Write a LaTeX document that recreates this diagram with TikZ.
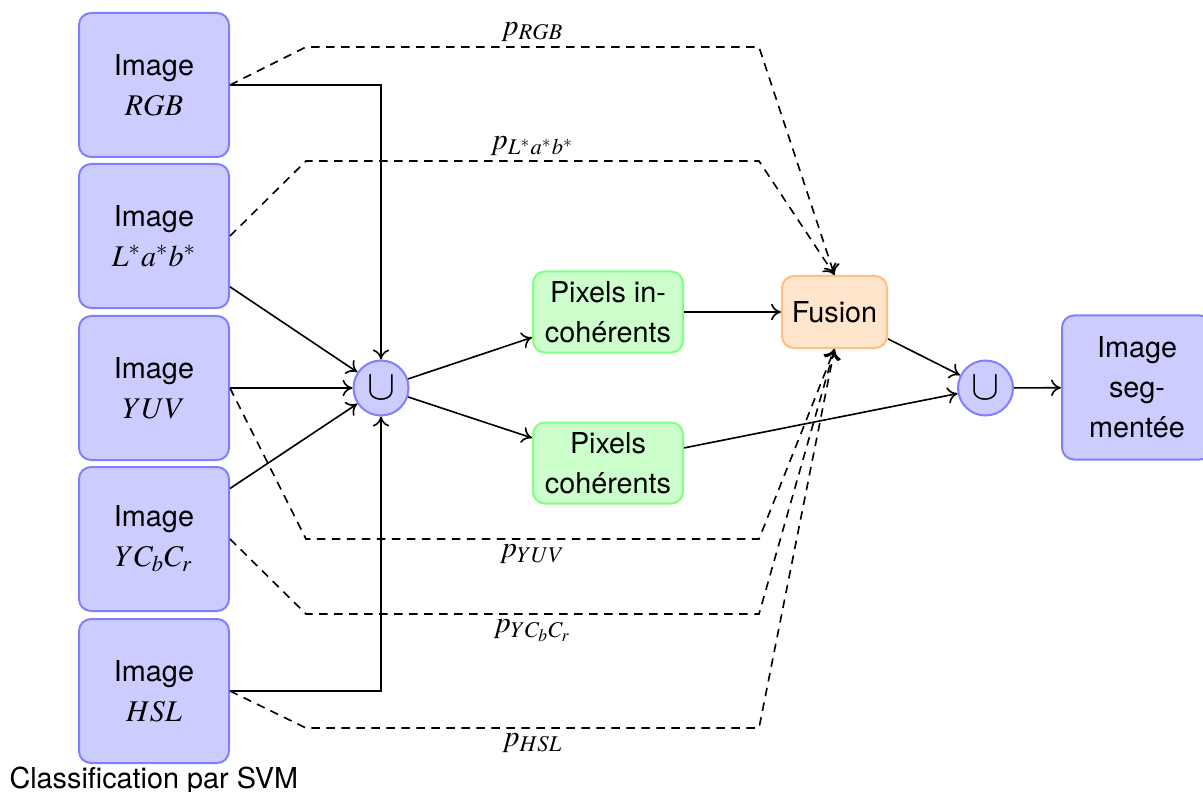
\documentclass[tikz,border=0pt]{standalone}
\usepackage{mathptmx}
\usepackage{graphicx}
\usepackage{fontspec}
\setsansfont[Scale=0.96]{TeX Gyre Heros}
\renewcommand{\familydefault}{\sfdefault}
\usetikzlibrary{arrows.meta}
\newcommand{\unionsym}{\scalebox{1.4}{\fontsize{12}{12}\usefont{OMS}{cmsy}{m}{n}\char"5B}}
\begin{document}
\begin{tikzpicture}[x=0.4pt,y=-0.4pt,
  every node/.style={font=\fontsize{12}{16}\selectfont},
  basebox/.style={line width=0.8pt, rounded corners=4.8pt, align=center, inner sep=0pt},
  imgbox/.style={basebox, draw=blue!50, fill=blue!20, minimum width=60pt, minimum height=57.6pt},
  pixbox/.style={basebox, draw=green!50, fill=green!20, minimum width=60pt, minimum height=32.4pt},
  fusbox/.style={basebox, draw=orange!50, fill=orange!20, minimum width=42pt, minimum height=28.8pt},
  unionc/.style={circle, draw=blue!50, fill=blue!20, line width=0.8pt, minimum size=22pt, inner sep=0pt},
  conn/.style={line width=0.65pt, -{To[length=4pt,width=6.6pt]}},
  dconn/.style={conn, dash pattern=on 3.4pt off 2.6pt},
  plab/.style={inner sep=2pt}
]
\path[use as bounding box, fill=white] (0,0) rectangle (1203,791);

% nodes
\node[imgbox] (rgb) at (154,85) {Image\\$RGB$};
\node[imgbox] (lab) at (154,236) {Image\\$L^*a^*b^*$};
\node[imgbox] (yuv) at (154,388) {Image\\$YUV$};
\node[imgbox] (ycc) at (154,539) {Image\\$YC_bC_r$};
\node[imgbox] (hsl) at (154,691) {Image\\$HSL$};
\node[unionc] (u1) at (381,388) {\unionsym};
\node[pixbox] (pinc) at (608,312) {Pixels in-\\cohérents};
\node[pixbox] (pcoh) at (608,463) {Pixels\\cohérents};
\node[fusbox] (fus) at (834.5,312) {Fusion};
\node[unionc] (u2) at (985.5,388) {\unionsym};
\node[imgbox] (seg) at (1137,387.5) {Image\\seg-\\mentée};
\node[anchor=base west, inner sep=0pt] (cls) at (9,788) {Classification par SVM};

% corner coordinates of dashed paths
\coordinate (rgbA) at (306,47);  \coordinate (rgbB) at (759,47);
\coordinate (labA) at (306,161); \coordinate (labB) at (759,161);
\coordinate (yuvA) at (306,539); \coordinate (yuvB) at (759,539);
\coordinate (yccA) at (306,614); \coordinate (yccB) at (759,614);
\coordinate (hslA) at (306,728); \coordinate (hslB) at (759,728);

% dashed connectors
\draw[dconn] (rgb.east) -- (rgbA) -- node[plab, above] (prgb) {$p_{RGB}$} (rgbB) -- (fus.north);
\draw[dconn] (lab.east) -- (labA) -- node[plab, above] (plab) {$p_{L^*a^*b^*}$} (labB) -- (fus.north);
\draw[dconn] (yuv.east) -- (yuvA) -- node[plab, below] (pyuv) {$p_{YUV}$} (yuvB) -- (fus.south);
\draw[dconn] (ycc.east) -- (yccA) -- node[plab, below] (pycc) {$p_{YC_bC_r}$} (yccB) -- (fus.south);
\draw[dconn] (hsl.east) -- (hslA) -- node[plab, below] (phsl) {$p_{HSL}$} (hslB) -- (fus.south);

% solid connectors
\draw[conn] (rgb.east) -| (u1.north);
\draw[conn] (lab) -- (u1);
\draw[conn] (yuv) -- (u1);
\draw[conn] (ycc) -- (u1);
\draw[conn] (hsl.east) -| (u1.south);
\draw[conn] (u1) -- (pinc);
\draw[conn] (u1) -- (pcoh);
\draw[conn] (pinc) -- (fus);
\draw[conn] (pcoh) -- (u2);
\draw[conn] (fus) -- (u2);
\draw[conn] (u2) -- (seg);
\end{tikzpicture}
\end{document}
